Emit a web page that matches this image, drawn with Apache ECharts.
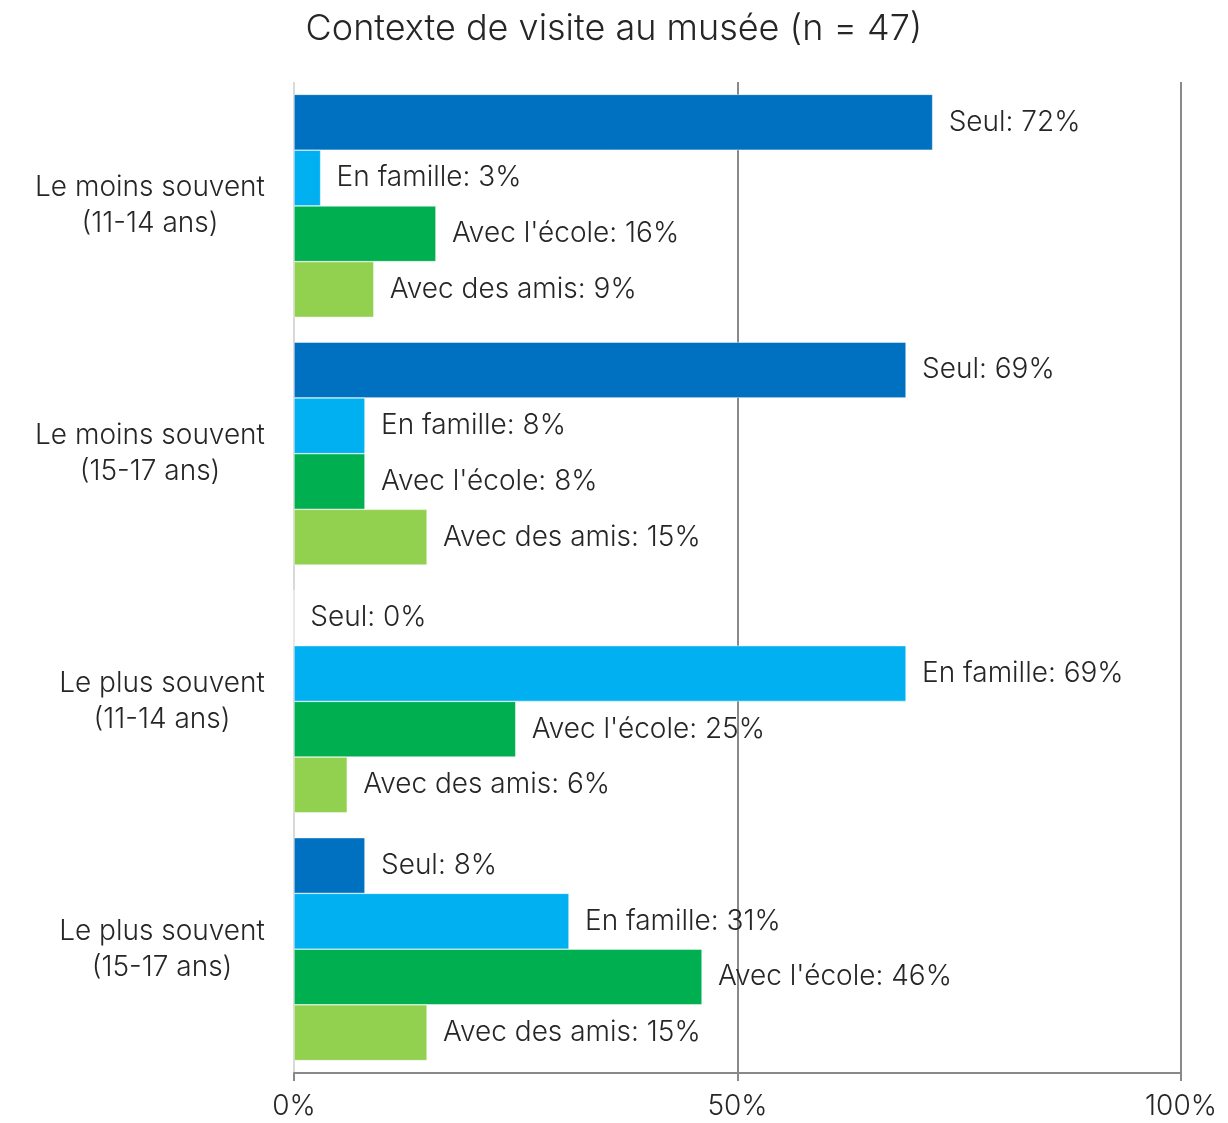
<!DOCTYPE html>
<html>
<head>
<meta charset="utf-8">
<script src="https://cdn.jsdelivr.net/npm/echarts@6/dist/echarts.min.js"></script>
<style>
  html, body { margin: 0; padding: 0; background: #fff; }
  #chart { width: 1228px; height: 1123px; }
</style>
</head>
<body>
<div id="chart"></div>
<script>
// Groups shown on the vertical axis (top to bottom)
const categories = [
  'Le moins souvent\n(11-14 ans)',
  'Le moins souvent\n(15-17 ans)',
  'Le plus souvent\n(11-14 ans)',
  'Le plus souvent\n(15-17 ans)'
];

// Share of visits per context, in percent
const seul = [72, 69, 0, 8];
const enFamille = [3, 8, 69, 31];
const avecEcole = [16, 8, 25, 46];
const avecAmis = [9, 15, 6, 15];

const seriesNames = ['Seul', 'En famille', "Avec l'école", 'Avec des amis'];
const seriesColors = ['#0070C0', '#00B0F0', '#00B050', '#92D050'];
const seriesValues = [seul, enFamille, avecEcole, avecAmis];

const FONT = 'Inter, "Open Sans", sans-serif';
const TEXT = '#262626';
const LABEL_SIZE = 28;

// Category labels: block sits against the axis, lines centred inside the block
const ctx = document.createElement('canvas').getContext('2d');
ctx.font = '300 ' + LABEL_SIZE + 'px ' + FONT;
const catRich = {};
categories.forEach((c, i) => {
  const w = Math.max(...c.split('\n').map(s => ctx.measureText(s).width));
  catRich['c' + i] = {
    width: Math.ceil(w), align: 'center',
    fontFamily: FONT, fontSize: LABEL_SIZE, fontWeight: 300, color: TEXT, lineHeight: 36
  };
});

const chart = echarts.init(document.getElementById('chart'));

chart.setOption({
  animation: false,
  title: {
    text: 'Contexte de visite au musée (n = 47)',
    left: 'center',
    top: 6,
    textStyle: { fontFamily: FONT, fontSize: 36, fontWeight: 300, color: TEXT }
  },
  grid: { left: 294, right: 47, top: 82, bottom: 50, containLabel: false },
  xAxis: {
    type: 'value',
    min: 0,
    max: 100,
    interval: 50,
    axisLabel: {
      formatter: '{value}%',
      fontFamily: FONT, fontSize: LABEL_SIZE, fontWeight: 300, color: TEXT, margin: 20
    },
    axisLine: { show: true, lineStyle: { color: '#898989', width: 2 } },
    axisTick: { show: true, length: 8, lineStyle: { color: '#898989', width: 2 } },
    splitLine: { show: true, lineStyle: { color: ['#d9d9d9', '#898989', '#898989'], width: 2 } }
  },
  yAxis: {
    type: 'category',
    data: categories,
    inverse: true,
    axisLine: { show: false },
    axisTick: { show: false },
    axisLabel: {
      align: 'right',
      margin: 29,
      formatter: (v, i) => v.split('\n').map(s => '{c' + i + '|' + s + '}').join('\n'),
      rich: catRich
    }
  },
  series: seriesNames.map((name, i) => ({
    name: name,
    type: 'bar',
    data: seriesValues[i],
    barGap: '0%',
    barCategoryGap: '10%',
    itemStyle: { color: seriesColors[i], borderColor: '#fff', borderWidth: 0.5 },
    label: {
      show: true,
      position: 'right',
      distance: 16,
      formatter: p => p.seriesName + ': ' + p.value + '%',
      fontFamily: FONT, fontSize: LABEL_SIZE, fontWeight: 300, color: TEXT
    }
  }))
});
</script>
</body>
</html>
